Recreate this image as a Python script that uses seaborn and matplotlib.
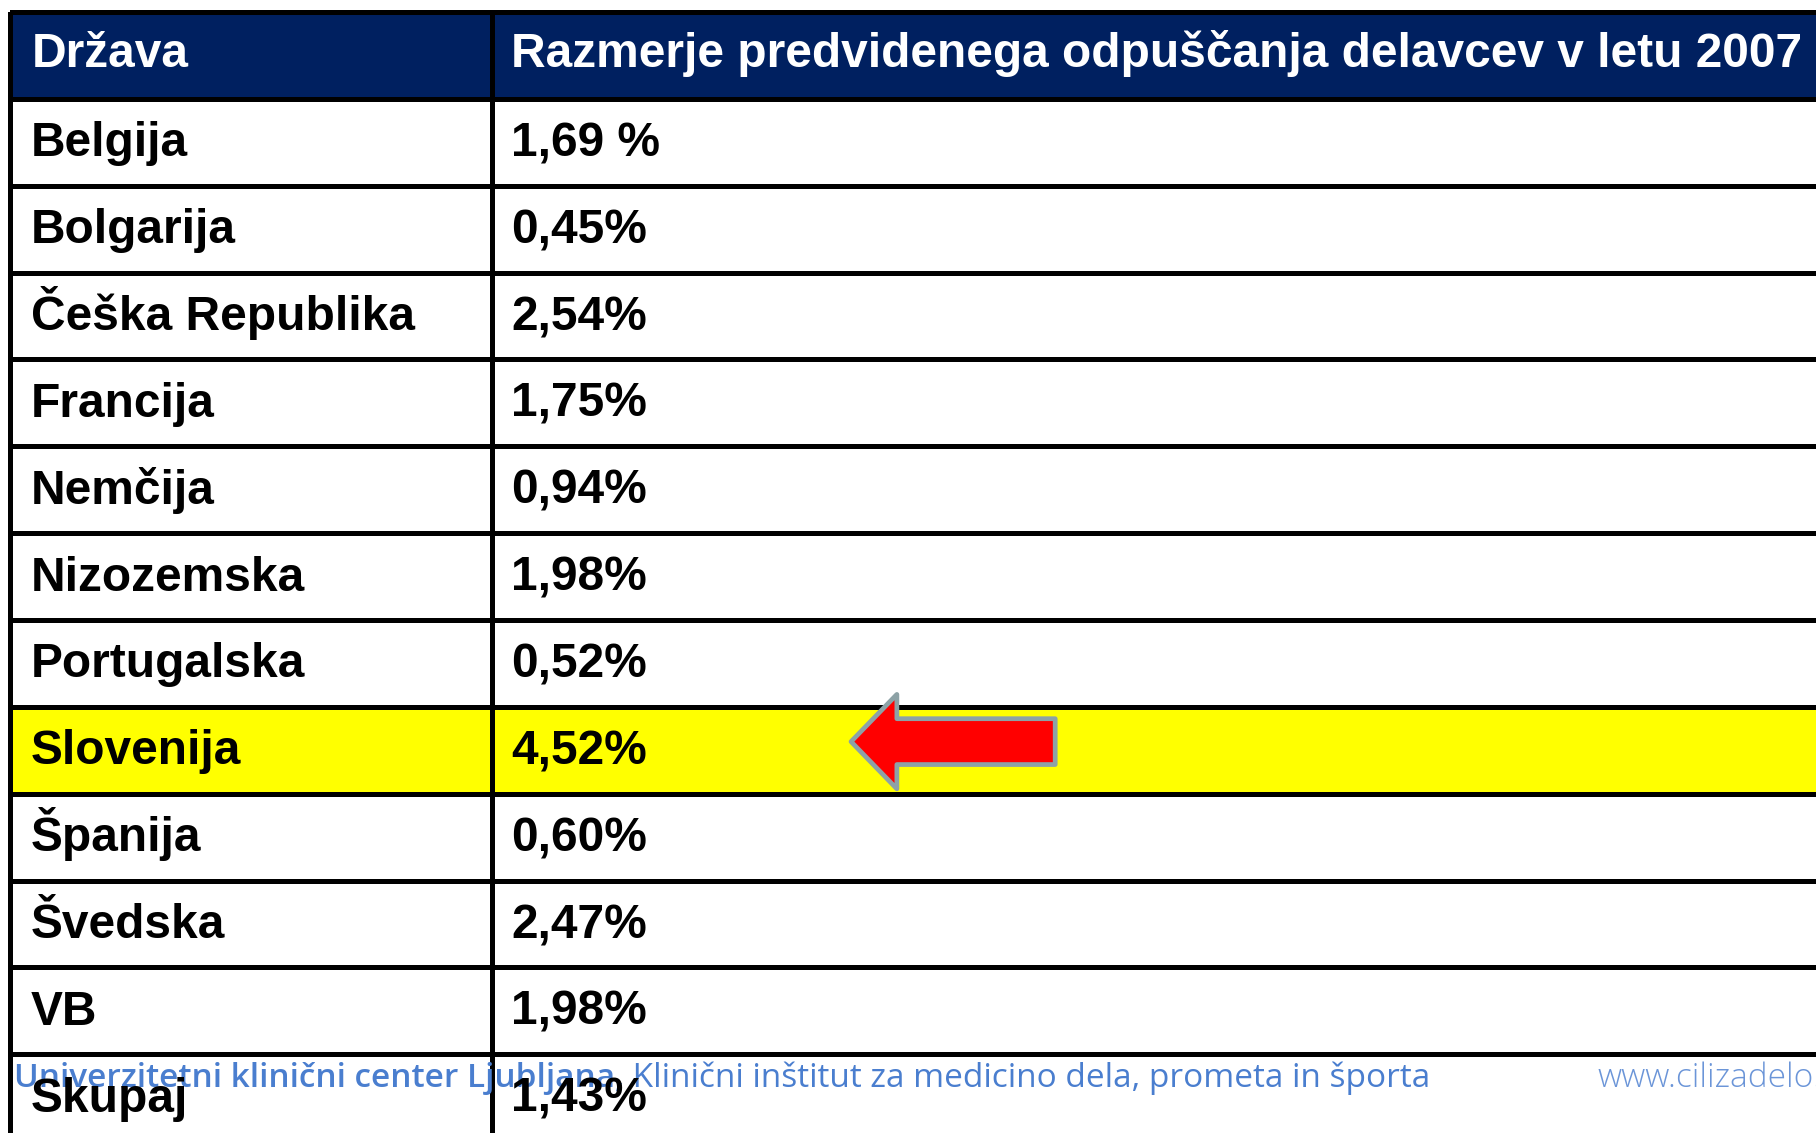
import pandas as pd
import matplotlib.pyplot as plt
import seaborn as sns
from matplotlib.colors import ListedColormap
from matplotlib.patches import ArrowStyle

# Table content
header = ["Država", "Razmerje predvidenega odpuščanja delavcev v letu 2007"]
countries = ["Belgija", "Bolgarija", "Češka Republika", "Francija", "Nemčija",
             "Nizozemska", "Portugalska", "Slovenija", "Španija", "Švedska",
             "VB", "Skupaj"]
rates = ["1,69 %", "0,45%", "2,54%", "1,75%", "0,94%", "1,98%", "0,52%",
         "4,52%", "0,60%", "2,47%", "1,98%", "1,43%"]
highlight = "Slovenija"

footer_bold = "Univerzitetni klinični center Ljubljana,"
footer_rest = " Klinični inštitut za medicino dela, prometa in športa"
footer_web = "www.cilizadelo.si"

navy = "#002060"
yellow = "#FFFF00"
footer_blue = "#4A7ECF"

sns.set_theme(style="white")
plt.rcParams["font.family"] = ["Liberation Sans", "DejaVu Sans"]

W, H = 1816, 1133
row_h = 86.86
top = 12
n_rows = len(countries) + 1
bottom = top + n_rows * row_h

# row colour codes: 0 white, 1 header, 2 highlighted row
codes = [1] + [2 if c == highlight else 0 for c in countries]
grid = pd.DataFrame({"c": codes})
cmap = ListedColormap(["white", navy, yellow])

fig = plt.figure(figsize=(W / 100, H / 100), dpi=100)
fig.patch.set_facecolor("white")
ax_l = fig.add_axes([10 / W, 1 - bottom / H, 482 / W, n_rows * row_h / H])
ax_r = fig.add_axes([492 / W, 1 - bottom / H, 1408 / W, n_rows * row_h / H])
for ax in (ax_l, ax_r):
    sns.heatmap(grid, ax=ax, cmap=cmap, vmin=-0.5, vmax=2.5, cbar=False,
                linewidths=2.2, linecolor="black",
                xticklabels=False, yticklabels=False)
    ax.collections[0].set_clip_on(False)
    ax.set_xlabel("")
    ax.set_ylabel("")

# overlay for all text so the black cell text sits above the footer
ov = fig.add_axes([0, 0, 1, 1], zorder=5)
ov.set_xlim(0, W)
ov.set_ylim(H, 0)
ov.axis("off")
ov.patch.set_alpha(0)

row_font = ["Liberation Sans", "DejaVu Sans"]
head_font = ["Liberation Sans", "DejaVu Sans"]


def cell_text(ax, row, s, pad, dy, color, size, family):
    ov.annotate(s, xy=(0, row + 0.5), xycoords=ax.transData,
                xytext=(pad, -dy), textcoords="offset pixels",
                ha="left", va="baseline", color=color, fontsize=size,
                fontweight="bold", family=family, zorder=3,
                annotation_clip=False)


cell_text(ax_l, 0, header[0], 22, 12, "white", 34.5, head_font)
cell_text(ax_r, 0, header[1], 19, 12, "white", 34.5, head_font)
for i, (c, r) in enumerate(zip(countries, rates)):
    cell_text(ax_l, i + 1, c, 21, 14, "black", 34.5, row_font)
    cell_text(ax_r, i + 1, r, 19, 14, "black", 34.5, row_font)

# red arrow pointing at the highlighted value
hr = 1 + countries.index(highlight)
ax_r.annotate("", xy=(0.255, hr + 0.4), xytext=(0.40, hr + 0.4),
              arrowprops=dict(arrowstyle=ArrowStyle.Simple(head_length=33, head_width=68, tail_width=33),
                              mutation_scale=1, shrinkA=0, shrinkB=0,
                              fc="#FF0000", ec="#8DA2A6", lw=3.4, joinstyle="round"),
              annotation_clip=False)

# footer of the slide
t1 = ov.text(14, 1087, footer_bold, color=footer_blue, fontsize=24,
             fontweight="semibold", family=["Open Sans", "DejaVu Sans"],
             va="baseline", zorder=1)
fig.canvas.draw()
bb = t1.get_window_extent()
ov.text(bb.x1, 1087, footer_rest, color=footer_blue, fontsize=24,
        family=["Open Sans", "DejaVu Sans"], va="baseline", zorder=1)
ov.text(1598, 1087, footer_web, color="#6B95D8", fontsize=24,
        family=["Open Sans", "DejaVu Sans"], fontweight="light",
        va="baseline", zorder=1)

fig.savefig("out.png", dpi=100)
